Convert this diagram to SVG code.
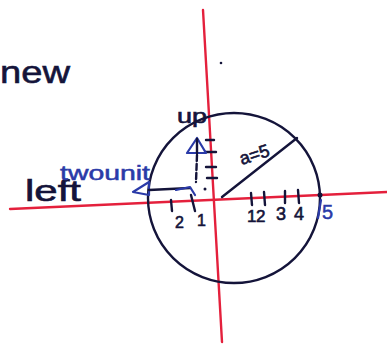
<svg xmlns="http://www.w3.org/2000/svg" width="387" height="347" viewBox="0 0 387 347">
<style>
.ink{fill:none;stroke:#14143a;stroke-width:2.4;stroke-linecap:round;stroke-linejoin:round}
.blue{fill:none;stroke:#2a3aa8;stroke-width:2.2;stroke-linecap:round;stroke-linejoin:round}
.axis{stroke:#e4203c;stroke-width:2.4;stroke-linecap:round}
.t{font-family:"Liberation Sans",sans-serif;fill:#14143a;stroke:#14143a;stroke-width:0.6}
.tb{font-family:"Liberation Sans",sans-serif;fill:#2a3aa8;stroke:#2a3aa8;stroke-width:0.5}
</style>
<rect width="387" height="347" fill="#ffffff"/>
<g id="title"><text class="t" x="0" y="83" font-size="32" textLength="70" lengthAdjust="spacingAndGlyphs">new</text></g>
<g id="axes">
<line class="axis" x1="10" y1="209" x2="387" y2="192"/>
<line class="axis" x1="203" y1="10" x2="222" y2="342"/>
</g>
<circle cx="221" cy="63" r="1.3" fill="#14143a"/>
<g id="circle"><ellipse class="ink" cx="234" cy="198" rx="86" ry="85"/>
<circle cx="320" cy="195" r="2.5" fill="#14143a"/></g>
<g id="radius">
<line class="ink" x1="222" y1="197" x2="297" y2="138"/>
<text class="t" x="239" y="162" font-size="18" transform="rotate(-18 250 155)">a=5</text>
</g>
<g id="ticks-right" class="ink">
<line x1="251" y1="193" x2="252" y2="205"/>
<line x1="264" y1="192" x2="265" y2="205"/>
<line x1="285" y1="191" x2="285" y2="203"/>
<line x1="298" y1="190" x2="299" y2="203"/>
</g>
<g id="labels-right">
<text class="t" x="247" y="222" font-size="17">1</text>
<text class="t" x="256" y="222" font-size="17">2</text>
<text class="t" x="276" y="220" font-size="18">3</text>
<text class="t" x="294" y="220" font-size="18">4</text>
<line class="blue" x1="321" y1="200" x2="318" y2="218"/>
<text class="tb" x="322" y="219" font-size="20">5</text>
</g>
<g id="ticks-left" class="ink">
<line x1="171" y1="200" x2="172" y2="211"/>
<line x1="191" y1="195" x2="195" y2="211"/>
</g>
<g id="labels-left">
<text class="t" x="175" y="228" font-size="16">2</text>
<text class="t" x="197" y="226" font-size="16">1</text>
</g>
<g id="ticks-up" class="ink">
<line x1="206" y1="140" x2="214" y2="140"/>
<line x1="205" y1="152" x2="216" y2="152"/>
<line x1="206" y1="167" x2="216" y2="167"/>
<line x1="207" y1="178" x2="217" y2="178"/>
</g>
<g id="up-arrow">
<polygon class="blue" points="197,138 187,153 206,153"/>
<line class="ink" x1="197" y1="139" x2="197" y2="153" stroke-width="2"/>
<line class="ink" x1="197" y1="155" x2="196" y2="182" stroke-dasharray="6 3" stroke-width="1.8"/>
<text class="t" x="177" y="123" font-size="20" textLength="30" lengthAdjust="spacingAndGlyphs">up</text>
</g>
<g id="left-arrow">
<polygon class="blue" points="133,192 149,182 149,195"/>
<path class="ink" d="M149,190 L190,188"/>
<path class="blue" d="M176,190 L190,187 L195,195"/>
<circle cx="205" cy="189" r="1.5" fill="#14143a"/>
<text class="t" x="25" y="201" font-size="29" textLength="56" lengthAdjust="spacingAndGlyphs">left</text>
<text class="tb" x="60" y="180" font-size="20" textLength="90" lengthAdjust="spacingAndGlyphs">twounit</text>
</g>
</svg>
